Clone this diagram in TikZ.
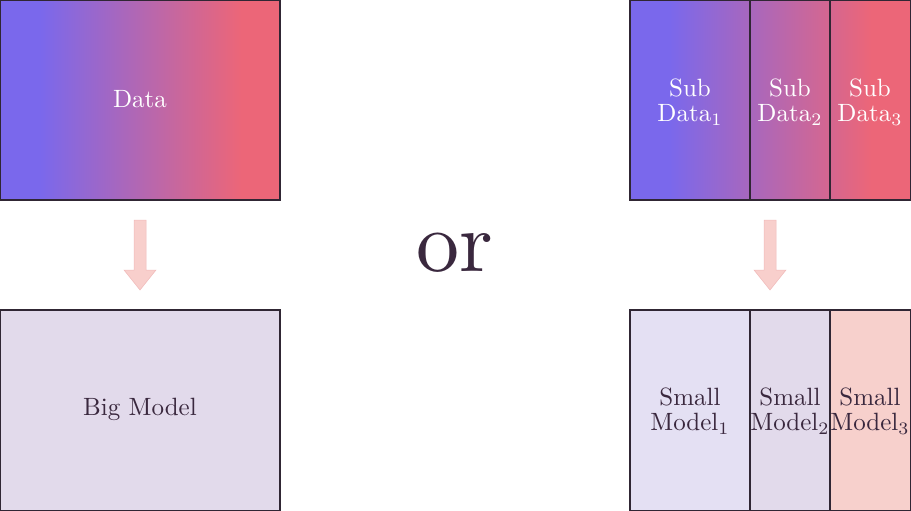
\documentclass[tikz,border=0pt]{standalone}
\usepackage{tikz}
\usepackage{graphicx}
\definecolor{dblue}{RGB}{122,104,236}
\definecolor{dred}{RGB}{236,102,120}
\definecolor{lav}{RGB}{226,218,235}
\definecolor{lavlight}{RGB}{228,224,243}
\definecolor{pinkm}{RGB}{247,208,204}
\definecolor{arrowpink}{RGB}{248,207,204}
\definecolor{arrowedge}{RGB}{240,185,185}
\definecolor{ink}{RGB}{58,40,62}
\definecolor{edge}{RGB}{48,38,52}
\pgfdeclarehorizontalshading{datashade}{100bp}{color(0bp)=(dblue); color(32bp)=(dblue); color(68bp)=(dred); color(100bp)=(dred)}
\newcommand{\bigtxt}[1]{\scalebox{2.5}{\fontsize{10}{11.4}\selectfont\shortstack{#1}}}
\tikzset{
  box/.style={draw=edge, line width=1.3pt},
  lbl/.style={inner sep=0pt},
  datalbl/.style={lbl, text=white},
  modellbl/.style={lbl, text=ink},
  downarrow/.style={fill=arrowpink, draw=arrowedge, line width=0.5pt},
}
\begin{document}
\begin{tikzpicture}[x=1pt,y=-1pt]
\useasboundingbox (0,0) rectangle (911,511);
% left data
\path[shading=datashade, shading angle=0] (0.7,0.7) rectangle (280,200);
\draw[box] (0.7,0.7) rectangle (280,200);
\node[datalbl] (data) at (140,99) {\bigtxt{Data}};
% big model
\fill[lav] (0.7,310) rectangle (280,510.3);
\draw[box] (0.7,310) rectangle (280,510.3);
\node[modellbl] (big) at (140,409) {\bigtxt{Big Model}};
% left arrow
\draw[downarrow] (134,220) -- (146,220) -- (146,270) -- (156,270) -- (140,290) -- (124,270) -- (134,270) -- cycle;
% or
\node[text=ink, inner sep=0pt, anchor=base] (or) at (455,271) {\scalebox{8.6}{or}};
% right data
\path[shading=datashade, shading angle=0] (630,0.7) rectangle (910.3,200);
\draw[box] (630,0.7) rectangle (910.3,200);
\draw[box] (750,0.7) -- (750,200);
\draw[box] (830,0.7) -- (830,200);
\node[datalbl] (sd1) at (690,102) {\bigtxt{Sub\\Data$_1$}};
\node[datalbl] (sd2) at (790,102) {\bigtxt{Sub\\Data$_2$}};
\node[datalbl] (sd3) at (870,102) {\bigtxt{Sub\\Data$_3$}};
% small models
\fill[lavlight] (630,310) rectangle (750,510.3);
\fill[lav] (750,310) rectangle (830,510.3);
\fill[pinkm] (830,310) rectangle (910.3,510.3);
\draw[box] (630,310) rectangle (910.3,510.3);
\draw[box] (750,310) -- (750,510.3);
\draw[box] (830,310) -- (830,510.3);
\node[modellbl] (sm1) at (690,411) {\bigtxt{Small\\Model$_1$}};
\node[modellbl] (sm2) at (790,411) {\bigtxt{Small\\Model$_2$}};
\node[modellbl] (sm3) at (870,411) {\bigtxt{Small\\Model$_3$}};
% right arrow
\draw[downarrow] (764,220) -- (776,220) -- (776,270) -- (786,270) -- (770,290) -- (754,270) -- (764,270) -- cycle;
\end{tikzpicture}
\end{document}
